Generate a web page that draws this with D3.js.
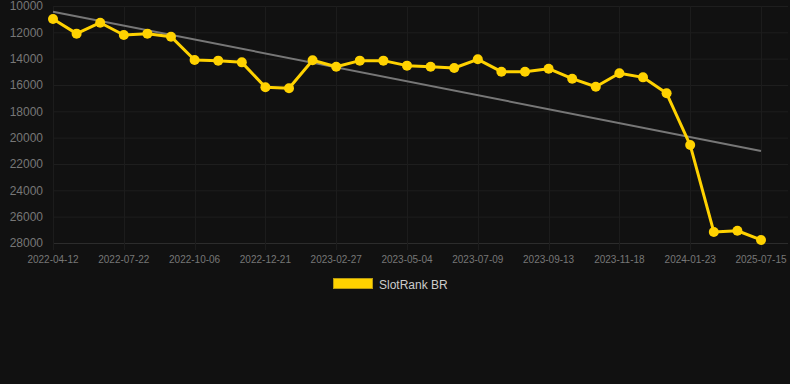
<!DOCTYPE html>
<html>
<head>
<meta charset="utf-8">
<script src="https://cdn.jsdelivr.net/npm/d3@7"></script>
<style>
  html, body { margin: 0; padding: 0; background: #111111; }
  svg { display: block; font-family: "Liberation Sans", Arial, sans-serif; }
</style>
</head>
<body>
<div id="chart"></div>
<script>
const width = 790;
const height = 384;
const margin = { top: 6, right: 2, bottom: 141, left: 53 };

// rank values, one per sample (31 samples)
const ranks = [
  10990, 12100, 11270, 12200, 12100, 12330, 14100, 14150, 14280, 16170,
  16250, 14120, 14610, 14150, 14150, 14530, 14610, 14710, 14050, 14990,
  14990, 14760, 15520, 16130, 15110, 15420, 16630, 20560, 27160, 27070,
  27770
];
// labelled categories (every third sample)
const tickIndex = [0, 3, 6, 9, 12, 15, 18, 21, 24, 27, 30];
const tickLabels = [
  "2022-04-12", "2022-07-22", "2022-10-06", "2022-12-21", "2023-02-27",
  "2023-05-04", "2023-07-09", "2023-09-13", "2023-11-18", "2024-01-23",
  "2025-07-15"
];
const yTicks = [10000, 12000, 14000, 16000, 18000, 20000, 22000, 24000, 26000, 28000];
// trend line end points
const trend = [
  { i: 0, v: 10430 },
  { i: 30, v: 21010 }
];
const seriesName = "SlotRank BR";
const yellow = "#ffd200";

const plotRight = 761;
const plotBottom = height - margin.bottom;

const svg = d3.select("#chart")
  .append("svg")
  .attr("width", width)
  .attr("height", height);

const x = d3.scaleLinear()
  .domain([0, ranks.length - 1])
  .range([margin.left, plotRight]);

const y = d3.scaleLinear()
  .domain([10000, 28000])
  .range([margin.top, plotBottom]);

// horizontal grid
svg.append("g")
  .selectAll("line")
  .data(yTicks)
  .join("line")
  .attr("x1", margin.left)
  .attr("x2", width - 2)
  .attr("y1", d => y(d) + 0.5)
  .attr("y2", d => y(d) + 0.5)
  .attr("stroke", d => d === 28000 ? "#2c2c2c" : "#1e1e1e")
  .attr("stroke-width", 1);

// vertical grid
svg.append("g")
  .selectAll("line")
  .data(tickIndex)
  .join("line")
  .attr("x1", d => Math.round(x(d)) + 0.5)
  .attr("x2", d => Math.round(x(d)) + 0.5)
  .attr("y1", margin.top)
  .attr("y2", plotBottom + 7)
  .attr("stroke", "#1c1c1c");

// y labels
svg.append("g")
  .selectAll("text")
  .data(yTicks)
  .join("text")
  .attr("x", 43)
  .attr("y", d => y(d))
  .attr("dy", "0.35em")
  .attr("text-anchor", "end")
  .attr("fill", "#777")
  .style("font-size", "12px")
  .text(d => d);

// x labels
svg.append("g")
  .selectAll("text")
  .data(tickIndex)
  .join("text")
  .attr("x", d => x(d))
  .attr("y", 259)
  .attr("dy", "0.35em")
  .attr("text-anchor", "middle")
  .attr("fill", "#777")
  .style("font-size", "10px")
  .text((d, i) => tickLabels[i]);

// trend
svg.append("path")
  .datum(trend)
  .attr("fill", "none")
  .attr("stroke", "#777")
  .attr("stroke-width", 2)
  .attr("d", d3.line().x(d => x(d.i)).y(d => y(d.v)));

// series line
svg.append("path")
  .datum(ranks)
  .attr("fill", "none")
  .attr("stroke", yellow)
  .attr("stroke-width", 3)
  .attr("stroke-linejoin", "round")
  .attr("d", d3.line().x((d, i) => x(i)).y(d => y(d)));

svg.append("g")
  .selectAll("circle")
  .data(ranks)
  .join("circle")
  .attr("cx", (d, i) => x(i))
  .attr("cy", d => y(d))
  .attr("r", 5)
  .attr("fill", yellow);

// legend
const legend = svg.append("g").attr("transform", "translate(333, 278)");
legend.append("rect")
  .attr("x", 0.5)
  .attr("y", 0.5)
  .attr("width", 39)
  .attr("height", 10)
  .attr("fill", yellow)
  .attr("stroke", "#b89a10")
  .attr("stroke-width", 1);
legend.append("text")
  .attr("x", 46)
  .attr("y", 7)
  .attr("dy", "0.35em")
  .attr("fill", "#ccc")
  .style("font-size", "12px")
  .text(seriesName);
</script>
</body>
</html>
